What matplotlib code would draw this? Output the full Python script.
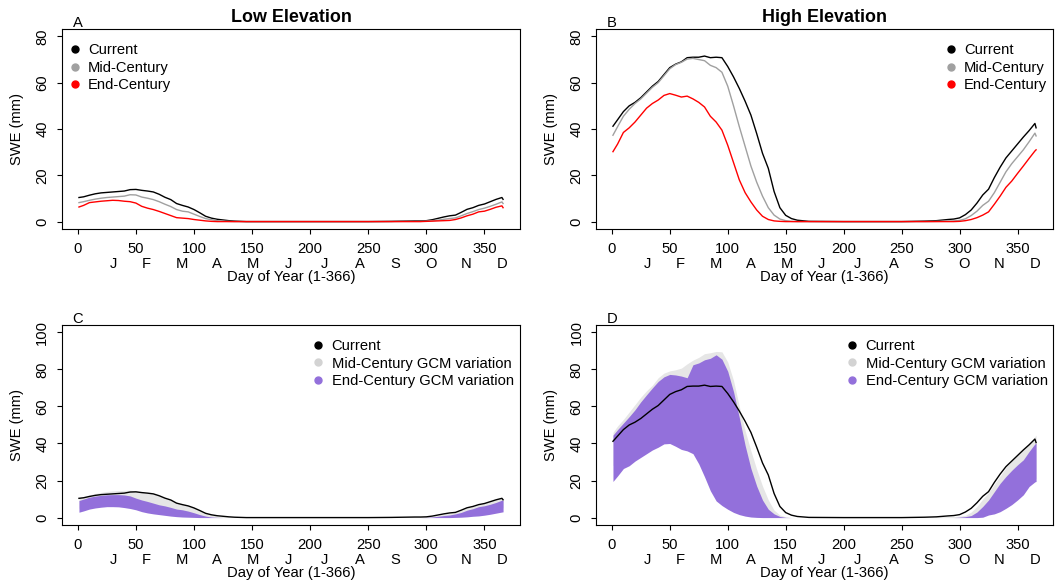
import matplotlib.pyplot as plt
from matplotlib.lines import Line2D
from matplotlib.transforms import blended_transform_factory

plt.rcParams['font.family'] = ['Liberation Sans', 'DejaVu Sans']
plt.rcParams['font.size'] = 10.6

# day of year sample points (summer is flat, so sampled sparsely there)
days = [1, 5, 10, 15, 20, 25, 30, 35, 40, 45, 50, 55, 60, 65, 70, 75, 80, 85, 90, 95,
        100, 105, 110, 115, 120, 125, 130, 135, 140, 145, 150, 155, 160,
        170, 200, 250, 270, 280, 290,
        295, 300, 305, 310, 315, 320, 325, 330, 335, 340, 345, 350, 355, 360, 365, 366]

# low elevation, mean SWE (mm)
low_cur = [10.4, 10.7, 11.4, 12.0, 12.4, 12.6, 12.8, 13.0, 13.2, 13.8, 13.9, 13.5, 13.2, 12.8, 11.8, 10.5, 9.5, 7.8, 7.0, 6.3,
           5.2, 3.8, 2.3, 1.5, 1.0, 0.7, 0.4, 0.2, 0.1, 0.0, 0.0, 0.0, 0.0,
           0.0, 0.0, 0.0, 0.1, 0.2, 0.3,
           0.3, 0.4, 0.8, 1.4, 2.0, 2.5, 2.8, 4.0, 5.3, 6.0, 7.0, 7.6, 8.6, 9.6, 10.4, 9.6]
low_mid = [8.2, 8.6, 9.2, 9.7, 10.1, 10.4, 10.6, 10.8, 11.0, 11.6, 11.5, 10.6, 10.1, 9.5, 8.6, 7.5, 6.5, 5.2, 4.5, 4.2,
           3.2, 2.2, 1.3, 0.8, 0.4, 0.2, 0.1, 0.0, 0.0, 0.0, 0.0, 0.0, 0.0,
           0.0, 0.0, 0.0, 0.0, 0.1, 0.1,
           0.1, 0.2, 0.4, 0.6, 1.0, 1.3, 1.6, 2.5, 3.5, 4.3, 5.2, 5.8, 6.6, 7.5, 8.5, 7.8]
low_end = [6.3, 7.0, 8.2, 8.5, 8.8, 9.0, 9.2, 9.1, 8.8, 8.6, 8.0, 6.6, 5.8, 5.2, 4.4, 3.5, 2.6, 1.7, 1.5, 1.3,
           0.9, 0.6, 0.3, 0.1, 0.0, 0.0, 0.0, 0.0, 0.0, 0.0, 0.0, 0.0, 0.0,
           0.0, 0.0, 0.0, 0.0, 0.0, 0.0,
           0.0, 0.1, 0.2, 0.3, 0.4, 0.5, 0.9, 1.6, 2.5, 3.2, 4.2, 4.5, 5.3, 6.2, 6.8, 6.0]

# high elevation, mean SWE (mm)
high_cur = [41.2, 44.0, 47.5, 50.0, 51.5, 53.5, 56.0, 58.5, 60.5, 63.5, 66.5, 68.0, 69.0, 70.8, 71.0, 71.0, 71.5, 70.8, 71.0, 70.8,
            67.0, 62.5, 57.5, 52.0, 46.0, 38.0, 29.5, 23.0, 13.0, 6.0, 2.7, 1.3, 0.6,
            0.1, 0.0, 0.0, 0.2, 0.4, 0.9,
            1.1, 1.6, 3.0, 5.0, 8.0, 11.5, 14.0, 19.0, 23.5, 27.5, 30.5, 33.5, 36.5, 39.3, 42.4, 40.5]
high_mid = [37.3, 41.0, 45.5, 48.5, 51.0, 53.0, 55.5, 58.0, 60.0, 63.0, 66.0, 67.8, 68.8, 70.2, 70.5, 70.0, 69.5, 67.5, 66.5, 64.5,
            58.5, 50.0, 41.0, 32.5, 24.0, 17.0, 11.0, 6.0, 2.8, 1.1, 0.4, 0.1, 0.0,
            0.0, 0.0, 0.0, 0.0, 0.1, 0.2,
            0.3, 0.5, 1.2, 2.6, 4.5, 7.0, 8.8, 12.5, 17.0, 21.5, 25.0, 28.0, 31.0, 34.5, 38.2, 37.0]
high_end = [30.2, 33.5, 38.5, 40.5, 43.0, 46.0, 49.0, 51.0, 52.5, 54.5, 55.3, 54.6, 53.8, 54.2, 53.0, 51.5, 49.5, 45.5, 43.0, 39.5,
            33.0, 25.5, 18.0, 12.5, 8.5, 5.0, 2.3, 0.9, 0.3, 0.1, 0.0, 0.0, 0.0,
            0.0, 0.0, 0.0, 0.0, 0.0, 0.0,
            0.0, 0.1, 0.4, 0.9, 1.7, 2.8, 4.2, 7.5, 11.0, 14.8, 17.5, 20.8, 24.0, 27.3, 30.5, 31.0]

# GCM spread (min / max across models)
low_mid_lo = [5.0, 5.6, 6.4, 7.0, 7.4, 7.7, 7.9, 8.0, 7.9, 7.7, 7.2, 6.2, 5.5, 4.8, 4.0, 3.3, 2.6, 2.0, 1.6, 1.3,
              0.9, 0.6, 0.3, 0.1, 0.0, 0.0, 0.0, 0.0, 0.0, 0.0, 0.0, 0.0, 0.0,
              0.0, 0.0, 0.0, 0.0, 0.0, 0.0,
              0.0, 0.0, 0.1, 0.2, 0.3, 0.5, 0.7, 1.2, 1.8, 2.4, 3.1, 3.5, 4.1, 4.8, 5.5, 5.2]
low_mid_hi = [10.8, 11.4, 12.3, 13.0, 13.6, 14.1, 14.4, 14.6, 14.7, 14.8, 14.4, 13.6, 13.2, 12.8, 11.8, 10.6, 9.6, 8.0, 7.2, 6.4,
              5.3, 3.9, 2.4, 1.5, 0.9, 0.5, 0.3, 0.1, 0.0, 0.0, 0.0, 0.0, 0.0,
              0.0, 0.0, 0.0, 0.1, 0.2, 0.3,
              0.3, 0.4, 0.8, 1.3, 1.9, 2.4, 2.8, 3.9, 5.2, 6.0, 7.0, 7.7, 8.8, 9.8, 10.8, 10.2]
low_end_lo = [2.9, 3.6, 4.6, 5.2, 5.6, 5.9, 5.9, 5.8, 5.4, 4.9, 4.2, 3.2, 2.5, 2.0, 1.6, 1.2, 0.8, 0.5, 0.3, 0.2,
              0.1, 0.0, 0.0, 0.0, 0.0, 0.0, 0.0, 0.0, 0.0, 0.0, 0.0, 0.0, 0.0,
              0.0, 0.0, 0.0, 0.0, 0.0, 0.0,
              0.0, 0.0, 0.0, 0.0, 0.0, 0.0, 0.1, 0.2, 0.4, 0.7, 0.9, 1.3, 1.8, 2.4, 3.0, 3.1]
low_end_hi = [9.2, 10.0, 11.0, 11.6, 12.0, 12.3, 12.4, 12.4, 12.2, 11.7, 10.5, 9.5, 8.7, 7.8, 6.9, 6.3, 5.5, 4.6, 4.2, 3.5,
              2.6, 1.6, 0.8, 0.3, 0.1, 0.0, 0.0, 0.0, 0.0, 0.0, 0.0, 0.0, 0.0,
              0.0, 0.0, 0.0, 0.0, 0.0, 0.0,
              0.0, 0.1, 0.3, 0.7, 1.1, 1.4, 2.0, 2.8, 4.0, 4.8, 5.9, 6.4, 7.2, 8.2, 9.4, 9.2]

high_mid_lo = [28.0, 31.0, 35.0, 37.5, 40.0, 42.5, 45.0, 47.0, 49.0, 51.0, 52.0, 52.5, 52.0, 52.5, 51.0, 48.0, 44.0, 38.0, 32.0, 26.0,
               20.0, 14.5, 10.0, 6.5, 4.0, 2.3, 1.2, 0.5, 0.2, 0.0, 0.0, 0.0, 0.0,
               0.0, 0.0, 0.0, 0.0, 0.0, 0.0,
               0.0, 0.0, 0.2, 0.5, 1.0, 2.0, 3.0, 4.5, 6.5, 8.5, 10.5, 13.0, 15.5, 18.5, 21.5, 21.0]
high_mid_hi = [46.0, 49.5, 53.0, 57.0, 61.0, 65.0, 68.5, 71.5, 75.5, 78.0, 79.2, 79.8, 80.7, 83.0, 85.0, 86.5, 88.5, 89.0, 89.7, 89.5,
               84.0, 74.0, 60.0, 47.0, 36.0, 26.0, 17.0, 9.5, 4.0, 1.4, 0.4, 0.1, 0.0,
               0.0, 0.0, 0.0, 0.1, 0.3, 0.5,
               0.5, 0.8, 1.2, 3.0, 6.0, 10.0, 13.5, 18.0, 22.5, 27.0, 30.5, 33.5, 36.5, 39.5, 43.8, 44.5]
high_end_lo = [19.5, 22.5, 26.5, 28.0, 30.5, 32.5, 34.5, 36.5, 38.0, 39.8, 40.0, 38.5, 36.8, 36.0, 34.5, 29.0, 22.0, 14.5, 9.0, 6.5,
               4.5, 2.8, 1.6, 0.8, 0.3, 0.1, 0.0, 0.0, 0.0, 0.0, 0.0, 0.0, 0.0,
               0.0, 0.0, 0.0, 0.0, 0.0, 0.0,
               0.0, 0.0, 0.0, 0.0, 0.0, 0.2, 1.4, 2.0, 3.2, 5.0, 7.0, 9.5, 12.3, 16.8, 19.3, 19.5]
high_end_hi = [44.5, 47.5, 51.0, 54.5, 58.2, 62.5, 66.3, 70.0, 73.5, 76.0, 77.3, 77.0, 76.4, 75.5, 82.5, 83.5, 85.2, 86.0, 87.9, 85.5,
               79.0, 68.0, 54.0, 39.0, 26.5, 17.0, 9.5, 4.5, 2.0, 0.6, 0.1, 0.0, 0.0,
               0.0, 0.0, 0.0, 0.0, 0.0, 0.0,
               0.0, 0.2, 0.5, 1.1, 3.0, 6.0, 9.5, 14.0, 18.5, 22.2, 25.5, 28.5, 31.2, 35.7, 39.8, 40.2]

month_days = [31, 59, 90, 120, 151, 181, 212, 243, 273, 304, 334, 365]
month_names = ['J', 'F', 'M', 'A', 'M', 'J', 'J', 'A', 'S', 'O', 'N', 'D']

line_labels = ['Current', 'Mid-Century', 'End-Century']
band_labels = ['Current', 'Mid-Century GCM variation', 'End-Century GCM variation']

C_CUR = 'black'
C_MID = '#a0a0a0'
C_END = '#ff0000'
C_MIDBAND = '#e6e6e6'
C_ENDBAND = '#9370db'


def style_axes(ax, ymax, letter):
    ax.set_xlim(-13.6, 380.6)
    ax.set_ylim(-0.04 * ymax, 1.04 * ymax)
    ax.set_xticks(range(0, 351, 50))
    ax.set_yticks(range(0, ymax + 1, 20))
    ax.tick_params(axis='x', length=3.6, width=0.8, pad=5.6)
    ax.tick_params(axis='y', length=3.6, width=0.8, pad=5.5, labelrotation=90)
    for lab in ax.get_yticklabels():
        lab.set_va('center')
    for sp in ax.spines.values():
        sp.set_linewidth(0.8)
    # month initials on a second row under the day numbers
    months = ax.secondary_xaxis('bottom')
    months.set_xticks(month_days, labels=month_names)
    months.tick_params(length=0, pad=20.0)
    months.spines['bottom'].set_visible(False)
    ax.set_xlabel('Day of Year (1-366)')
    ax.xaxis.set_label_coords(0.5, -0.205)
    ax.set_ylabel('SWE (mm)')
    ax.yaxis.set_label_coords(-0.084, 0.5)
    trans = blended_transform_factory(ax.transData, ax.transAxes)
    ax.text(0, 1.012, letter, transform=trans, ha='center', va='baseline')


def add_legend(ax, labels, colors, x):
    handles = [Line2D([], [], ls='', marker='o', ms=5, color=c) for c in colors]
    ax.legend(handles, labels, loc='upper left', bbox_to_anchor=(x, 0.93),
              frameon=False, borderpad=0, borderaxespad=0, handlelength=0.8,
              handletextpad=0.5, labelspacing=0.25)


fig = plt.figure(figsize=(10.6, 5.83), dpi=100)
axA = fig.add_axes([0.0585, 0.6072, 0.4321, 0.3431])
axB = fig.add_axes([0.5623, 0.6072, 0.4311, 0.3431])
axC = fig.add_axes([0.0585, 0.0995, 0.4321, 0.3431])
axD = fig.add_axes([0.5623, 0.0995, 0.4311, 0.3431])

# top row: mean curves
for ax, cur, mid, end in [(axA, low_cur, low_mid, low_end), (axB, high_cur, high_mid, high_end)]:
    ax.plot(days, cur, color=C_CUR, lw=1.0)
    ax.plot(days, mid, color=C_MID, lw=1.0)
    ax.plot(days, end, color=C_END, lw=1.0)
    style_axes(ax, 80, 'A' if ax is axA else 'B')

axA.set_title('Low Elevation', fontsize=12.9, fontweight='bold', pad=5)
axB.set_title('High Elevation', fontsize=12.9, fontweight='bold', pad=5)
add_legend(axA, line_labels, [C_CUR, C_MID, C_END], 0.0155)
add_legend(axB, line_labels, [C_CUR, C_MID, C_END], 0.763)

# bottom row: GCM spread bands
for ax, cur, mlo, mhi, elo, ehi in [(axC, low_cur, low_mid_lo, low_mid_hi, low_end_lo, low_end_hi),
                                    (axD, high_cur, high_mid_lo, high_mid_hi, high_end_lo, high_end_hi)]:
    ax.fill_between(days, mlo, mhi, color=C_MIDBAND, lw=0)
    ax.fill_between(days, elo, ehi, color=C_ENDBAND, lw=0)
    ax.plot(days, cur, color=C_CUR, lw=1.0)
    style_axes(ax, 100, 'C' if ax is axC else 'D')

add_legend(axC, band_labels, [C_CUR, '#d3d3d3', C_ENDBAND], 0.5467)
add_legend(axD, band_labels, [C_CUR, '#d3d3d3', C_ENDBAND], 0.548)

fig.savefig('out.png', dpi=100)
